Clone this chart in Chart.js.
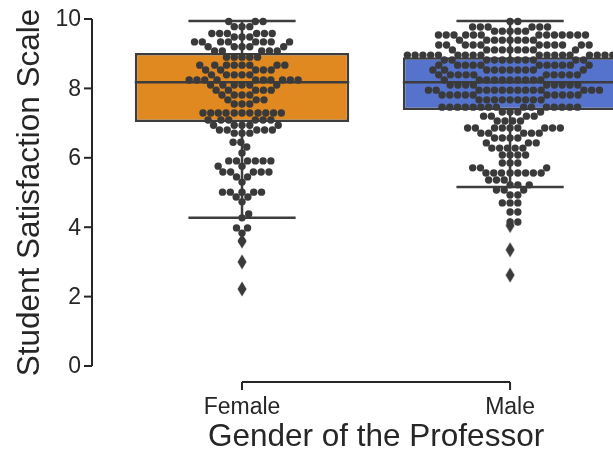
<!DOCTYPE html>
<html>
<head>
<meta charset="utf-8">
<script src="https://cdn.jsdelivr.net/npm/chart.js@4.4.0/dist/chart.umd.min.js"></script>
<style>
  html, body { margin: 0; padding: 0; background: #fff; }
</style>
</head>
<body>
<canvas id="chart" width="613" height="453"></canvas>
<script>
// categories and axis text
const groups = ['Female', 'Male'];
const yTicks = [0, 2, 4, 6, 8, 10];
const xTitle = 'Gender of the Professor';
const yTitle = 'Student Satisfaction Scale';
const boxColors = ['#df8920', '#5573cd'];

// box stats: [low whisker, q1, median, q3, high whisker]
const femaleBox = [4.27, 7.03, 8.18, 9.02, 9.94];
const maleBox = [5.16, 7.38, 8.18, 8.90, 9.94];

// outliers drawn as diamonds
const femaleOutliers = [3.6, 3.0, 2.22];
const maleOutliers = [4.05, 3.35, 2.62];

// swarm points, as value levels and how many dots sit at each level
const femaleLevels = [9.93, 9.78, 9.58, 9.48, 9.34, 9.2, 9.08, 8.9, 8.67, 8.53, 8.39, 8.24, 8.1, 7.95,
  7.81, 7.67, 7.55, 7.29, 7.09, 6.94, 6.8, 6.71, 6.45, 6.31, 6.14, 5.91, 5.76, 5.59, 5.45, 5.3,
  5.01, 4.87, 4.73, 4.38, 4.27, 3.98, 3.83, 3.6];
const femaleCounts = [3, 3, 6, 3, 8, 5, 5, 5, 8, 5, 5, 10, 6, 5,
  4, 3, 3, 11, 6, 5, 5, 3, 2, 1, 1, 6, 2, 5, 2, 1,
  5, 2, 1, 1, 1, 2, 1, 1];

const maleLevels = [9.93, 9.77, 9.65, 9.54, 9.39, 9.25, 9.11, 8.96, 8.82, 8.67, 8.53, 8.39, 8.24, 8.1,
  7.95, 7.81, 7.67, 7.46, 7.32, 7.2, 7.06, 6.86, 6.71, 6.57, 6.43, 6.28, 6.08, 5.85, 5.71, 5.56,
  5.36, 5.22, 5.07, 4.93, 4.7, 4.44, 4.15];
const maleCounts = [2, 6, 5, 13, 8, 11, 9, 18, 11, 11, 10, 10, 10, 9,
  14, 10, 9, 15, 4, 4, 4, 9, 5, 4, 3, 5, 4, 3, 3, 8,
  3, 3, 3, 2, 3, 2, 2];

const INK = '#262626';
const EDGE = '#3d3d3d';
const DOT = '#3a3a3a';
const DOT_R = 3.7;
const FONT = '"Liberation Sans", Arial, Helvetica, sans-serif';

function expand(levels, counts) {
  const out = [];
  levels.forEach((v, i) => { for (let k = 0; k < counts[i]; k++) out.push(v); });
  return out;
}

const swarmValues = [expand(femaleLevels, femaleCounts), expand(maleLevels, maleCounts)];
const boxStats = [femaleBox, maleBox];
const outliers = [femaleOutliers, maleOutliers];

// whiskers, caps and medians as broken line segments
function boxLines() {
  const pts = [];
  const gap = i => pts.push({ x: i, y: null });
  boxStats.forEach((s, i) => {
    const [lo, q1, med, q3, hi] = s;
    pts.push({ x: i - 0.4, y: med }, { x: i + 0.4, y: med }); gap(i);
    pts.push({ x: i, y: q1 }, { x: i, y: lo }); gap(i);
    pts.push({ x: i - 0.2, y: lo }, { x: i + 0.2, y: lo }); gap(i);
    pts.push({ x: i, y: q3 }, { x: i, y: hi }); gap(i);
    pts.push({ x: i - 0.2, y: hi }, { x: i + 0.2, y: hi }); gap(i);
  });
  return pts;
}

// thin diamond marker for the fliers
function diamondMarker() {
  const c = document.createElement('canvas');
  c.width = 10; c.height = 16;
  const g = c.getContext('2d');
  g.fillStyle = DOT;
  g.beginPath();
  g.moveTo(5, 0.5); g.lineTo(9.5, 8); g.lineTo(5, 15.5); g.lineTo(0.5, 8);
  g.closePath(); g.fill();
  return c;
}

// seaborn-like beeswarm, done in pixel space through the chart scales
function beeswarm(xs, ys, center, values, r) {
  const d = 2 * r;
  const cx = xs.getPixelForValue(center);
  const pts = values.map(v => ({ v, y: ys.getPixelForValue(v) })).sort((a, b) => a.v - b.v);
  const placed = [];
  pts.forEach(p => {
    const nb = placed.filter(q => Math.abs(q.y - p.y) <= d);
    const cands = [cx];
    nb.forEach(q => {
      const dy = p.y - q.y;
      const dx = Math.sqrt(Math.max(d * d - dy * dy, 0)) * 1.05;
      cands.push(q.x + dx, q.x - dx);
    });
    cands.sort((a, b) => Math.abs(a - cx) - Math.abs(b - cx));
    let x = cands[cands.length - 1];
    for (const c of cands) {
      if (nb.every(q => Math.hypot(q.x - c, q.y - p.y) >= d - 1e-6)) { x = c; break; }
    }
    placed.push({ x, y: p.y, v: p.v });
  });
  const lim = Math.abs(xs.getPixelForValue(center + 0.4) - cx);
  return placed.map(q => ({
    x: xs.getValueForPixel(Math.max(cx - lim, Math.min(cx + lim, q.x))),
    y: q.v,
  }));
}

const despinedAxes = {
  id: 'despinedAxes',
  afterDraw(chart) {
    const { ctx, scales: { x, y } } = chart;
    const spineX = x.left - 16;
    const spineY = y.bottom + 16;
    ctx.save();
    ctx.strokeStyle = INK;
    ctx.fillStyle = INK;
    ctx.lineWidth = 2;
    ctx.lineCap = 'butt';

    // y spine, trimmed to the tick range
    ctx.beginPath();
    ctx.moveTo(spineX, y.getPixelForValue(yTicks[0]));
    ctx.lineTo(spineX, y.getPixelForValue(yTicks[yTicks.length - 1]));
    ctx.stroke();
    ctx.font = '23px ' + FONT;
    ctx.textAlign = 'right';
    ctx.textBaseline = 'middle';
    yTicks.forEach(t => {
      const py = y.getPixelForValue(t);
      ctx.beginPath();
      ctx.moveTo(spineX - 8, py);
      ctx.lineTo(spineX, py);
      ctx.stroke();
      ctx.fillText(String(t), spineX - 11, py + 1);
    });

    // x spine, trimmed between the two categories
    ctx.beginPath();
    ctx.moveTo(x.getPixelForValue(0), spineY);
    ctx.lineTo(x.getPixelForValue(groups.length - 1), spineY);
    ctx.stroke();
    ctx.textAlign = 'center';
    ctx.textBaseline = 'alphabetic';
    groups.forEach((g, i) => {
      const px = x.getPixelForValue(i);
      ctx.beginPath();
      ctx.moveTo(px, spineY);
      ctx.lineTo(px, spineY + 8);
      ctx.stroke();
      ctx.fillText(g, px, spineY + 32);
    });

    // axis titles
    ctx.font = '31.5px ' + FONT;
    ctx.fillText(xTitle, x.getPixelForValue((groups.length - 1) / 2), spineY + 64);
    ctx.save();
    ctx.translate(39, (y.top + y.bottom) / 2);
    ctx.rotate(-Math.PI / 2);
    ctx.fillText(yTitle, 0, 0);
    ctx.restore();
    ctx.restore();
  },
};

const chart = new Chart(document.getElementById('chart'), {
  type: 'scatter',
  data: {
    datasets: [
      {
        label: 'swarm',
        data: [],
        pointRadius: DOT_R,
        pointHoverRadius: DOT_R,
        pointBackgroundColor: DOT,
        pointBorderWidth: 0,
        clip: false,
        order: 0,
      },
      {
        label: 'outliers',
        data: outliers.flatMap((arr, i) => arr.map(v => ({ x: i, y: v }))),
        pointStyle: diamondMarker(),
        pointRadius: 5,
        clip: false,
        order: 1,
      },
      {
        type: 'line',
        label: 'whiskers',
        data: boxLines(),
        borderColor: EDGE,
        borderWidth: 2.5,
        pointRadius: 0,
        spanGaps: false,
        clip: false,
        order: 2,
      },
      {
        type: 'bar',
        label: 'boxes',
        data: boxStats.map((s, i) => ({ x: i, y: [s[1], s[3]] })),
        backgroundColor: boxColors,
        borderColor: EDGE,
        borderWidth: 2.5,
        borderSkipped: false,
        barPercentage: 0.8,
        categoryPercentage: 1,
        order: 3,
      },
    ],
  },
  options: {
    responsive: false,
    animation: false,
    events: [],
    layout: { autoPadding: false, padding: { left: 108, right: 0, top: 19, bottom: 87 } },
    plugins: { legend: { display: false }, tooltip: { enabled: false } },
    scales: {
      x: {
        type: 'linear',
        min: -0.5,
        max: 1.384,
        offset: false,
        display: false,
        afterBuildTicks: s => { s.ticks = groups.map((g, i) => ({ value: i })); },
      },
      y: { min: 0, max: 10, display: false },
    },
  },
  plugins: [despinedAxes],
});

// place the swarm once the scales know their pixels
chart.data.datasets[0].data = swarmValues.flatMap((vals, i) =>
  beeswarm(chart.scales.x, chart.scales.y, i, vals, DOT_R));
chart.update('none');
</script>
</body>
</html>
